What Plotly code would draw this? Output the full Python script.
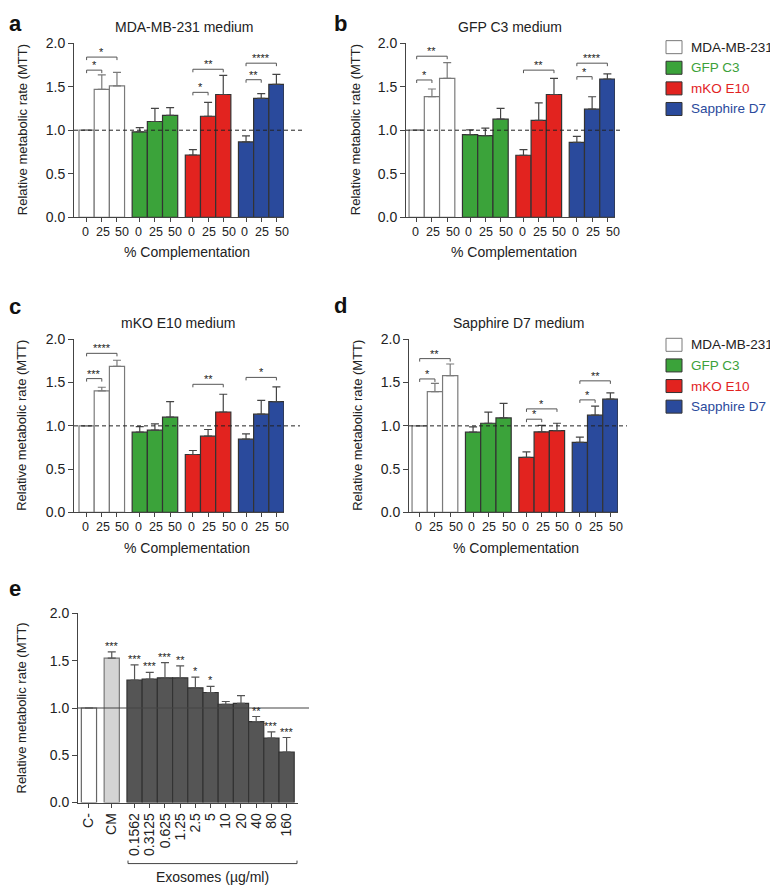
import plotly.graph_objects as go

W, H = 778, 885

groups = ["MDA-MB-231", "GFP C3", "mKO E10", "Sapphire D7"]
pct_labels = ["0", "25", "50"]

# panel a - MDA-MB-231 medium (rows = cell line, cols = 0/25/50 %)
a_mean = [[1.00, 1.47, 1.51], [0.98, 1.10, 1.17], [0.715, 1.16, 1.41], [0.865, 1.365, 1.527]]
a_err = [[0, 0.165, 0.155], [0.05, 0.15, 0.09], [0.062, 0.16, 0.22], [0.07, 0.055, 0.115]]
a_sig = [(0, 0, 1, 1.69, "*"), (0, 0, 2, 1.84, "*"), (2, 0, 1, 1.435, "*"),
         (2, 0, 2, 1.70, "**"), (3, 0, 1, 1.58, "**"), (3, 0, 2, 1.77, "****")]

# panel b - GFP C3 medium
b_mean = [[1.00, 1.385, 1.596], [0.95, 0.938, 1.127], [0.712, 1.113, 1.41], [0.86, 1.242, 1.588]]
b_err = [[0, 0.088, 0.18], [0.054, 0.085, 0.123], [0.065, 0.2, 0.186], [0.07, 0.142, 0.058]]
b_sig = [(0, 0, 1, 1.577, "*"), (0, 0, 2, 1.85, "**"), (2, 0, 2, 1.69, "**"),
         (3, 0, 1, 1.615, "*"), (3, 0, 2, 1.77, "****")]

# panel c - mKO E10 medium
c_mean = [[1.00, 1.404, 1.688], [0.927, 0.95, 1.10], [0.669, 0.881, 1.16], [0.846, 1.135, 1.28]]
c_err = [[0, 0.042, 0.07], [0.065, 0.073, 0.18], [0.046, 0.077, 0.205], [0.062, 0.16, 0.17]]
c_sig = [(0, 0, 1, 1.546, "***"), (0, 0, 2, 1.838, "****"), (2, 0, 2, 1.48, "**"),
         (3, 0, 2, 1.56, "*")]

# panel d - Sapphire D7 medium
d_mean = [[1.00, 1.396, 1.58], [0.927, 1.03, 1.092], [0.635, 0.93, 0.946], [0.81, 1.123, 1.308]]
d_err = [[0, 0.096, 0.135], [0.061, 0.128, 0.168], [0.065, 0.075, 0.084], [0.06, 0.104, 0.072]]
d_sig = [(0, 0, 1, 1.542, "*"), (0, 0, 2, 1.777, "**"), (2, 0, 1, 1.077, "*"),
         (2, 0, 2, 1.196, "*"), (3, 0, 1, 1.30, "*"), (3, 0, 2, 1.52, "**")]

# panel e - exosome dose response
e_labels = ["C-", "CM", "0.1562", "0.3125", "0.625", "1.25", "2.5", "5", "10", "20", "40", "80", "160"]
e_mean = [1.0, 1.527, 1.294, 1.305, 1.319, 1.319, 1.213, 1.164, 1.04, 1.05, 0.857, 0.681, 0.533]
e_err = [0, 0.067, 0.163, 0.071, 0.162, 0.127, 0.113, 0.064, 0.029, 0.082, 0.053, 0.067, 0.155]
e_sig = ["", "***", "***", "***", "***", "**", "*", "*", "", "", "**", "***", "***"]

FONT = "Liberation Sans, Arial, sans-serif"
fills = ["#ffffff", "#3ba33a", "#e2231f", "#2a4a9c"]
edges = ["#7a7a7a", "#333333", "#333333", "#333333"]
err_cols = ["#7a7a7a", "#444444", "#444444", "#444444"]
legend_text_cols = ["#222222", "#3ca13a", "#e2231f", "#2a4a9c"]
AX = "#444444"
# the % labels are spread slightly wider than the bars, like the original
label_nudge = [-0.08, 0.07, 0.35]

# the page puts the figure at (8, 16) and squeezes it a bit vertically,
# so target positions (in screenshot pixels) are mapped back to paper coords
OX, OY, SY = 8, 15.86, 0.9814


def px(x):
    return (x - OX) / W


def py(y):
    return 1 - (y - OY) / SY / H


def label(x, y, text, size=14, color="#222", **kw):
    d = dict(x=px(x), y=py(y), xref="paper", yref="paper", text=text, showarrow=False,
             xanchor="center", yanchor="middle", font=dict(size=size, color=color))
    d.update(kw)
    return d


fig = go.Figure()
shapes = []
annotations = []

# pixel layout of the four complementation panels
panels = [
    dict(mean=a_mean, err=a_err, sig=a_sig, title="MDA-MB-231 medium", letter="a",
         x0=74, x1=284, top=43, bot=217, xr=[-0.83, 13], dash_end=302,
         tx=184, ty=27, lx=15, ly=23, ytx=22, xty=252, xtx=187),
    dict(mean=b_mean, err=b_err, sig=b_sig, title="GFP C3 medium", letter="b",
         x0=406, x1=615, top=43, bot=217, xr=[-0.7, 13], dash_end=620,
         tx=510, ty=27, lx=340, ly=23, ytx=355, xty=252, xtx=514),
    dict(mean=c_mean, err=c_err, sig=c_sig, title="mKO E10 medium", letter="c",
         x0=74, x1=284, top=339, bot=512, xr=[-0.83, 13], dash_end=300,
         tx=178, ty=323, lx=15, ly=306, ytx=22, xty=548, xtx=187),
    dict(mean=d_mean, err=d_err, sig=d_sig, title="Sapphire D7 medium", letter="d",
         x0=409, x1=618, top=339, bot=512, xr=[-0.7, 13], dash_end=627,
         tx=519, ty=323, lx=340, ly=305, ytx=358, xty=548, xtx=516),
]

layout_axes = {}
tick_pos = [g * 3.5 + i for g in range(4) for i in range(3)]

for n, p in enumerate(panels, start=1):
    xa = "x" if n == 1 else f"x{n}"
    ya = "y" if n == 1 else f"y{n}"
    for g in range(4):
        xs = [g * 3.5 + i for i in range(3)]
        fig.add_trace(go.Bar(
            x=xs, y=p["mean"][g], width=1,
            marker=dict(color=fills[g], line=dict(color=edges[g], width=1.2)),
            error_y=dict(type="data", symmetric=False, array=p["err"][g],
                         arrayminus=[0, 0, 0], color=err_cols[g], thickness=1.2, width=4),
            xaxis=xa, yaxis=ya, showlegend=False, hoverinfo="skip"))
        # % complementation labels under each bar
        for i, xv in enumerate(xs):
            annotations.append(dict(x=xv + label_nudge[i], y=0, xref=xa, yref=ya, text=pct_labels[i],
                                    showarrow=False, xanchor="center", yanchor="top", yshift=-6,
                                    font=dict(size=12.5, color="#222")))

    layout_axes["xaxis" if n == 1 else f"xaxis{n}"] = dict(
        domain=[px(p["x0"]), px(p["x1"])], range=p["xr"], anchor=ya,
        tickmode="array", tickvals=tick_pos, showticklabels=False,
        ticks="outside", ticklen=4, tickcolor=AX, showline=True, linecolor=AX,
        showgrid=False, zeroline=False)
    layout_axes["yaxis" if n == 1 else f"yaxis{n}"] = dict(
        domain=[py(p["bot"]), py(p["top"])], range=[0, 2.0], anchor=xa,
        tickvals=[0, 0.5, 1.0, 1.5, 2.0], tickformat=".1f",
        ticks="outside", ticklen=5, tickcolor=AX, showline=True, linecolor=AX,
        showgrid=False, zeroline=False, tickfont=dict(size=14, color="#222"))

    # dashed reference line at 1.0
    shapes.append(dict(type="line", xref="paper", yref=ya, x0=px(p["x0"]), x1=px(p["dash_end"]),
                       y0=1, y1=1, line=dict(color="#222", width=1, dash="4px,3px"), layer="above"))

    # significance brackets
    drop = 3 / 86.7
    for g, i, j, yv, lab in p["sig"]:
        xi = g * 3.5 + i
        xj = g * 3.5 + j
        for seg in [(xi, yv, xj, yv), (xi, yv, xi, yv - drop), (xj, yv, xj, yv - drop)]:
            shapes.append(dict(type="line", xref=xa, yref=ya, x0=seg[0], y0=seg[1], x1=seg[2], y1=seg[3],
                               line=dict(color="#555", width=1)))
        annotations.append(dict(x=(xi + xj) / 2, y=yv, xref=xa, yref=ya, text=lab, showarrow=False,
                                xanchor="center", yanchor="bottom", yshift=-3,
                                font=dict(size=11, color="#222")))

    annotations.append(label(p["tx"], p["ty"], p["title"]))
    annotations.append(label(p["lx"], p["ly"], "<b>" + p["letter"] + "</b>", size=22, color="#111"))
    annotations.append(label(p["ytx"], (p["top"] + p["bot"]) / 2, "Relative metabolic rate (MTT)",
                             size=13, textangle=-90))
    annotations.append(label(p["xtx"], p["xty"], "% Complementation"))

# manual legends beside panels b and d
for ly0 in [47, 344.5]:
    for k, name in enumerate(groups):
        yc = ly0 + 20.6 * k
        shapes.append(dict(type="rect", xref="paper", yref="paper", x0=px(666), x1=px(682),
                           y0=py(yc + 6.5), y1=py(yc - 6.5), fillcolor=fills[k],
                           line=dict(color=edges[k], width=1)))
        annotations.append(label(689, yc, name, size=13.5, color=legend_text_cols[k], xanchor="left"))

# panel e
e_x = [0, 1.5] + [3 + k for k in range(11)]
e_fill = ["#ffffff", "#d4d4d4"] + ["#555555"] * 11
e_edge = ["#666666", "#777777"] + ["#333333"] * 11
fig.add_trace(go.Bar(
    x=e_x, y=e_mean, width=1,
    marker=dict(color=e_fill, line=dict(color=e_edge, width=1.2)),
    error_y=dict(type="data", symmetric=False, array=e_err, arrayminus=[0] * len(e_err),
                 color="#555", thickness=1.2, width=4),
    xaxis="x5", yaxis="y5", showlegend=False, hoverinfo="skip"))

layout_axes["xaxis5"] = dict(
    domain=[px(78), px(298)], range=[-0.72, 13.75], anchor="y5",
    tickmode="array", tickvals=e_x, ticktext=e_labels, tickangle=-90,
    ticks="outside", ticklen=4, tickcolor=AX, showline=True, linecolor=AX,
    showgrid=False, zeroline=False, tickfont=dict(size=14, color="#222"))
layout_axes["yaxis5"] = dict(
    domain=[py(802), py(613)], range=[0, 2.0], anchor="x5",
    tickvals=[0, 0.5, 1.0, 1.5, 2.0], tickformat=".1f",
    ticks="outside", ticklen=5, tickcolor=AX, showline=True, linecolor=AX,
    showgrid=False, zeroline=False, tickfont=dict(size=14, color="#222"))

shapes.append(dict(type="line", xref="paper", yref="y5", x0=px(78), x1=px(309), y0=1, y1=1,
                   line=dict(color="#444", width=1.2), layer="above"))

for xv, m, e, s in zip(e_x, e_mean, e_err, e_sig):
    if s:
        annotations.append(dict(x=xv, y=m + e, xref="x5", yref="y5", text=s, showarrow=False,
                                xanchor="center", yanchor="bottom", yshift=-2,
                                font=dict(size=11, color="#222")))

# bracket under the exosome doses
shapes.append(dict(type="line", xref="paper", yref="paper", x0=px(128), x1=px(297),
                   y0=py(863), y1=py(863), line=dict(color="#444", width=1)))
for xe in [128, 297]:
    shapes.append(dict(type="line", xref="paper", yref="paper", x0=px(xe), x1=px(xe),
                       y0=py(863), y1=py(860), line=dict(color="#444", width=1)))
annotations.append(label(212, 876, "Exosomes (µg/ml)"))
annotations.append(label(22, 708, "Relative metabolic rate (MTT)", size=13, textangle=-90))
annotations.append(label(15, 588, "<b>e</b>", size=22, color="#111"))

fig.update_layout(
    width=W, height=H,
    margin=dict(l=0, r=0, t=0, b=0),
    barmode="overlay",
    plot_bgcolor="white", paper_bgcolor="white",
    font=dict(family=FONT, color="#222"),
    shapes=shapes, annotations=annotations,
    **layout_axes
)

fig.write_html("out.html")
